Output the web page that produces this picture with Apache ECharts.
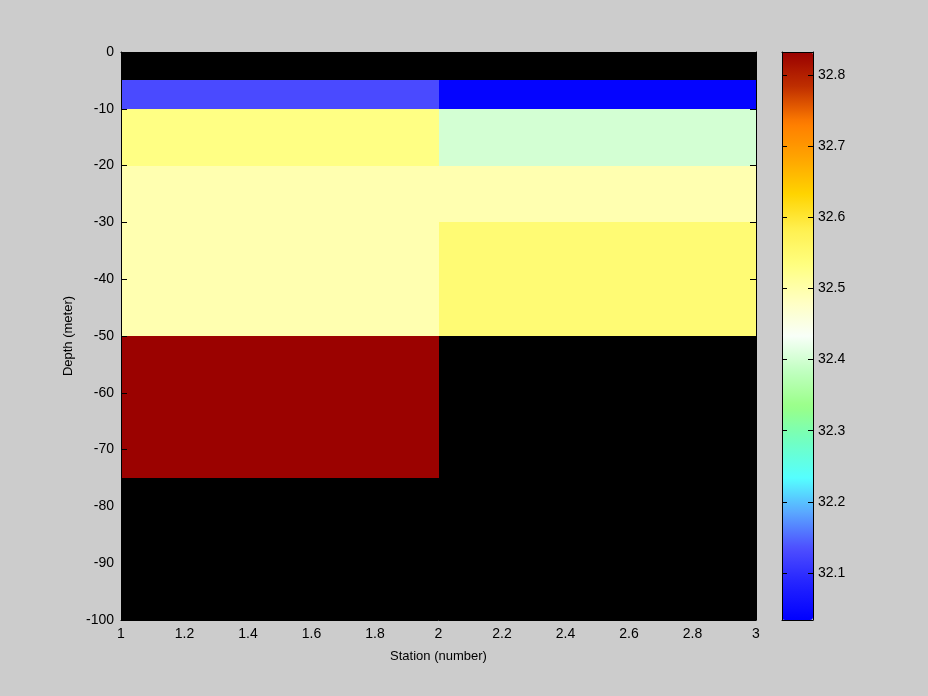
<!DOCTYPE html>
<html>
<head>
<meta charset="utf-8">
<script src="https://cdn.jsdelivr.net/npm/echarts@6/dist/echarts.min.js"></script>
<style>html,body{margin:0;padding:0;background:#cccccc;}#c{width:928px;height:696px;}</style>
</head>
<body>
<div id="c"></div>
<script>
// Station edges (x) and depth edges (y)
const stationEdges = [1, 2, 3];
const depthEdges = [0, -5, -10, -20, -30, -50, -75, -100];
// Salinity per depth bin (null = no data)
const station1 = [null, 32.13, 32.530, 32.495, 32.495, 32.83, null];
const station2 = [null, 32.04, 32.40, 32.495, 32.545, null, null];
const xTicks = [1, 1.2, 1.4, 1.6, 1.8, 2, 2.2, 2.4, 2.6, 2.8, 3];
const yTicks = [0, -10, -20, -30, -40, -50, -60, -70, -80, -90, -100];
const cbarTicks = [32.1, 32.2, 32.3, 32.4, 32.5, 32.6, 32.7, 32.8];
const cbarMin = 32.034, cbarMax = 32.832;
const cmap = ['#0000ff','#2222ff','#4d4dff','#5aa5ff','#55ffff','#70ffc4','#99ff88','#c0ffc0',
  '#f8fff8','#ffffc0','#ffff80','#fff050','#ffd400','#ffa500','#ff7d00','#c03000','#990000'];

const stations = [station1, station2];
const cells = [];
stations.forEach((col, si) => {
  col.forEach((v, di) => {
    if (v !== null) cells.push([stationEdges[si], stationEdges[si + 1], depthEdges[di], depthEdges[di + 1], v]);
  });
});

const font = 'Liberation Sans, Arial, sans-serif';
const lineS = {lineStyle: {color: '#000', width: 1}};
const fmt = v => String(+(+v).toFixed(2));

const chart = echarts.init(document.getElementById('c'), null, {renderer: 'canvas'});
chart.setOption({
  backgroundColor: '#cccccc',
  animation: false,
  grid: [
    {left: 121, top: 52, width: 635, height: 568, show: true, backgroundColor: '#000000', borderWidth: 0},
    {left: 782, top: 52, width: 31, height: 568, show: false}
  ],
  xAxis: [
    {gridIndex: 0, type: 'value', min: 1, max: 3, interval: 0.2, position: 'bottom', z: 10,
      name: 'Station (number)', nameLocation: 'middle', nameGap: 30,
      nameTextStyle: {color: '#000', fontSize: 13, fontFamily: font},
      axisLine: {show: true, onZero: false, ...lineS}, axisTick: {inside: true, length: 6, ...lineS},
      axisLabel: {color: '#000', fontSize: 14, fontFamily: font, margin: 7, formatter: fmt},
      splitLine: {show: false}},
    {gridIndex: 0, type: 'value', min: 1, max: 3, interval: 0.2, position: 'top', z: 10,
      axisLine: {show: true, onZero: false, ...lineS}, axisTick: {inside: true, length: 6, ...lineS},
      axisLabel: {show: false}, splitLine: {show: false}},
    {gridIndex: 1, type: 'value', min: 0, max: 1, position: 'bottom', z: 10,
      axisLine: {show: true, onZero: false, ...lineS}, axisTick: {show: false}, axisLabel: {show: false}, splitLine: {show: false}},
    {gridIndex: 1, type: 'value', min: 0, max: 1, position: 'top', z: 10,
      axisLine: {show: true, onZero: false, ...lineS}, axisTick: {show: false}, axisLabel: {show: false}, splitLine: {show: false}}
  ],
  yAxis: [
    {gridIndex: 0, type: 'value', min: -100, max: 0, interval: 10, position: 'left', z: 10,
      name: 'Depth (meter)', nameLocation: 'middle', nameGap: 42, nameRotate: 90,
      nameTextStyle: {color: '#000', fontSize: 13, fontFamily: font},
      axisLine: {show: true, onZero: false, ...lineS}, axisTick: {inside: true, length: 6, ...lineS},
      axisLabel: {color: '#000', fontSize: 14, fontFamily: font, margin: 7},
      splitLine: {show: false}},
    {gridIndex: 0, type: 'value', min: -100, max: 0, interval: 10, position: 'right', z: 10,
      axisLine: {show: true, onZero: false, ...lineS}, axisTick: {inside: true, length: 6, ...lineS},
      axisLabel: {show: false}, splitLine: {show: false}},
    {gridIndex: 1, type: 'value', min: cbarMin, max: cbarMax, position: 'right', z: 10,
      axisLine: {show: true, onZero: false, ...lineS},
      axisTick: {inside: true, length: 5, customValues: cbarTicks, ...lineS},
      axisLabel: {color: '#000', fontSize: 14, fontFamily: font, margin: 5, customValues: cbarTicks, formatter: fmt},
      splitLine: {show: false}},
    {gridIndex: 1, type: 'value', min: cbarMin, max: cbarMax, position: 'left', z: 10,
      axisLine: {show: true, onZero: false, ...lineS},
      axisTick: {inside: true, length: 5, customValues: cbarTicks, ...lineS},
      axisLabel: {show: false}, splitLine: {show: false}}
  ],
  visualMap: {
    type: 'continuous', min: cbarMin, max: cbarMax, dimension: 4, seriesIndex: 0,
    left: 782, top: 52, itemWidth: 31, itemHeight: 568, padding: 0, calculable: false,
    orient: 'vertical', inRange: {color: cmap}, text: null, showLabel: false
  },
  series: [{
    type: 'custom', xAxisIndex: 0, yAxisIndex: 0, data: cells,
    encode: {x: [0, 1], y: [2, 3]},
    renderItem: function (params, api) {
      const p0 = api.coord([api.value(0), api.value(2)]);
      const p1 = api.coord([api.value(1), api.value(3)]);
      const x0 = Math.round(p0[0]), y0 = Math.round(p0[1]);
      const x1 = Math.round(p1[0]), y1 = Math.round(p1[1]);
      return {type: 'rect', shape: {x: x0, y: y0, width: x1 - x0, height: y1 - y0},
        style: {fill: api.visual('color')}};
    }
  }]
});
</script>
</body>
</html>
